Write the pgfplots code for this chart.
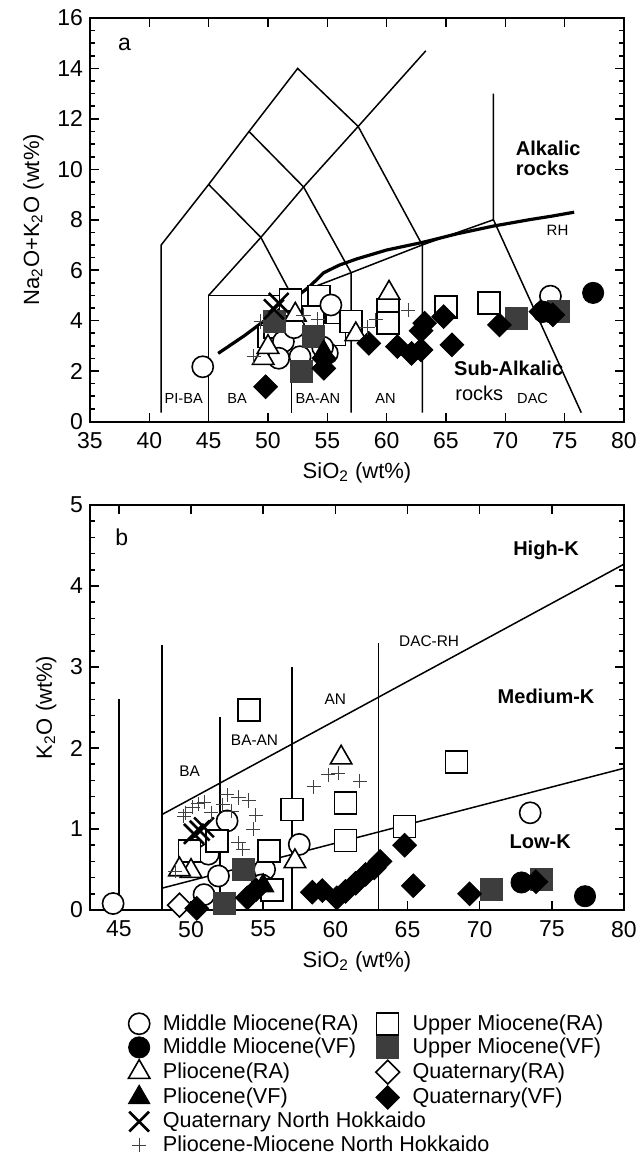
\documentclass[border=0pt]{standalone}
\usepackage{fontspec}
\setmainfont{Liberation Sans}
\usepackage{pgfplots}
\pgfplotsset{compat=1.18}
\usetikzlibrary{calc}

\definecolor{umvf}{HTML}{3D3D3D}

\pgfplotsset{
  panel/.style={
    scale only axis, width=267pt,
    tick align=inside, tick pos=both,
    axis line style={line width=1pt},
    every tick/.style={black, line width=0.8pt},
    major tick length=4.5pt, minor tick length=2.5pt,
    tick label style={font=\fontsize{11.5}{13}\selectfont},
    xticklabel style={yshift=-2pt},
    label style={font=\fontsize{11}{13}\selectfont},
    /pgf/number format/assume math mode=true,
  },
  bline/.style={black, line width=0.75pt, no marks, forget plot},
  mmra/.style={only marks, mark=*, mark size=5.3pt, mark options={fill=white, draw=black, line width=0.8pt}},
  mmvf/.style={only marks, mark=*, mark size=5.3pt, mark options={fill=black, draw=black}},
  umra/.style={only marks, mark=square*, mark size=5.5pt, mark options={fill=white, draw=black, line width=0.8pt}},
  umvf/.style={only marks, mark=square*, mark size=5.5pt, mark options={fill=umvf, draw=umvf}},
  plra/.style={only marks, mark=triangle*, mark size=6.2pt, mark options={fill=white, draw=black, line width=0.8pt}},
  plvf/.style={only marks, mark=triangle*, mark size=6.2pt, mark options={fill=black, draw=black}},
  qra/.style={only marks, mark=square*, mark size=4.2pt, mark options={rotate=45, fill=white, draw=black, line width=0.8pt}},
  qvf/.style={only marks, mark=square*, mark size=4.2pt, mark options={rotate=45, fill=black, draw=black}},
  qnh/.style={only marks, mark=x, mark size=7pt, mark options={draw=black, line width=1.3pt}},
  pmnh/.style={only marks, mark=+, mark size=3.6pt, mark options={draw=black!75, line width=0.5pt}},
}

\begin{document}
\begin{tikzpicture}

% ---------------- panel a: TAS ----------------
\begin{axis}[panel, name=pa, at={(0pt,0pt)}, anchor=south west, height=201.75pt,
  xmin=35, xmax=80, ymin=0, ymax=16,
  xtick={35,40,...,80}, ytick={0,2,...,16}, minor y tick num=3,
  xlabel={SiO\textsubscript{2} (wt\%)},
  ylabel={Na\textsubscript{2}O+K\textsubscript{2}O (wt\%)},
]
\addplot[bline] coordinates {(41,0.35) (41,7) (45,9.4) (48.4,11.5) (52.5,14) (57.6,11.7) (63,7) (63,0.35)};
\addplot[bline] coordinates {(45,0.35) (45,5) (52,5) (52,0.35)};
\addplot[bline] coordinates {(45,5) (49.4,7.3) (53,9.3) (57.6,11.7) (63.3,14.7)};
\addplot[bline] coordinates {(45,9.4) (49.4,7.3) (52,5)};
\addplot[bline] coordinates {(48.4,11.5) (53,9.3) (57,5.9) (57,0.35)};
\addplot[bline] coordinates {(52,5) (57,5.9) (63,7) (69,8)};
\addplot[bline] coordinates {(69,13) (69,8) (76.4,0.35)};
\addplot[black, line width=1.6pt, no marks, forget plot] coordinates {
  (45.8,2.7) (48,3.4) (50,4.1) (52,4.8) (53.5,5.35) (54.7,5.9) (56,6.2) (57.5,6.45)
  (60,6.8) (63,7.1) (66,7.45) (69,7.75) (72,8.0) (74,8.15) (75.8,8.3)};

\addplot[umra] coordinates {(50.1,3.37) (50.6,3.75) (51.9,4.82) (54.3,4.95) (53.8,4.15) (55.8,3.96)
  (55.6,3.45) (57.0,3.96) (60.1,4.42) (60.1,3.9) (65.0,4.55) (68.6,4.7)};
\addplot[mmra] coordinates {(44.5,2.17) (55.3,4.62) (51.3,3.17) (50.9,2.51) (52.7,2.57) (55.0,2.71)
  (54.6,2.95) (52.2,3.72) (73.8,4.97)};
\addplot[plra] coordinates {(52.3,4.23) (49.6,2.51) (50.0,2.95) (57.4,3.45) (60.2,5.1)};
\addplot[umvf] coordinates {(50.5,3.95) (53.8,3.37) (52.8,1.98) (70.9,4.1) (74.5,4.36)};
\addplot[mmvf] coordinates {(77.4,5.1) (73.2,4.35)};
\addplot[plvf] coordinates {(54.7,2.75)};
\addplot[qvf] coordinates {(49.8,1.38) (54.7,2.51) (54.7,2.11) (58.5,3.10) (60.9,2.97) (62.1,2.70)
  (62.9,2.84) (62.9,3.60) (63.2,3.90) (64.8,4.16) (65.5,3.04) (69.5,3.83) (73.0,4.36) (74.0,4.23)};
\addplot[qnh] coordinates {(50.5,4.45) (50.9,4.70)};
\addplot[pmnh] coordinates {(49.4,3.96) (48.8,2.57) (53.0,4.2) (59.1,4.03) (58.4,3.72) (61.8,4.42) (54.2,4.05)};

\node[font=\fontsize{11.5}{13}\selectfont] at (axis cs:37.9,14.96) {a};
\node[font=\bfseries\fontsize{10}{12}\selectfont, anchor=west] at (axis cs:70.3,10.84) {Alkalic};
\node[font=\bfseries\fontsize{10}{12}\selectfont, anchor=west] at (axis cs:70.3,10.05) {rocks};
\node[font=\fontsize{7.5}{9}\selectfont] at (axis cs:74.4,7.57) {RH};
\node[font=\bfseries\fontsize{10}{12}\selectfont, anchor=west] at (axis cs:65.1,2.11) {Sub-Alkalic};
\node[font=\fontsize{10}{12}\selectfont, anchor=west] at (axis cs:65.2,1.12) {rocks};
\node[font=\fontsize{7.3}{9}\selectfont] at (axis cs:42.9,0.92) {PI-BA};
\node[font=\fontsize{7.3}{9}\selectfont] at (axis cs:47.4,0.92) {BA};
\node[font=\fontsize{7.3}{9}\selectfont] at (axis cs:54.2,0.92) {BA-AN};
\node[font=\fontsize{7.3}{9}\selectfont] at (axis cs:59.9,0.92) {AN};
\node[font=\fontsize{7.3}{9}\selectfont] at (axis cs:72.3,0.92) {DAC};
\end{axis}

% ---------------- panel b: K2O vs SiO2 ----------------
\begin{axis}[panel, name=pb, at={(0pt,-41.75pt)}, anchor=north west, height=202.5pt,
  xmin=43, xmax=80, ymin=0, ymax=5,
  xtick={45,50,...,80}, ytick={0,1,...,5}, minor y tick num=4,
  xlabel={SiO\textsubscript{2} (wt\%)},
  ylabel={K\textsubscript{2}O (wt\%)},
  legend columns=2,
  legend style={at={(0.06,-0.242)}, anchor=north west, draw=none, fill=none,
    font=\fontsize{10.8}{12}\selectfont, cells={anchor=west}, row sep=0.5pt,
    nodes={inner sep=1pt},
    /tikz/every even column/.append style={column sep=5pt},
    /tikz/every odd column/.append style={column sep=5.5pt}},
]
\addplot[bline] coordinates {(45,0) (45,2.6)};
\addplot[bline] coordinates {(48,0) (48,3.27)};
\addplot[bline] coordinates {(52,0) (52,2.38)};
\addplot[bline] coordinates {(57,0) (57,3.0)};
\addplot[bline] coordinates {(63,0) (63,3.3)};
\addplot[bline] coordinates {(48,1.18) (80,4.27)};
\addplot[bline] coordinates {(48,0.27) (80,1.75)};

\addplot[mmra] coordinates {(44.6,0.08) (52.5,1.10) (51.2,0.69) (55.1,0.50) (51.9,0.42) (57.5,0.81)
  (50.9,0.19) (54.9,0.31) (73.5,1.20)};
\addlegendentry{Middle Miocene(RA)}
\addplot[umra] coordinates {(54.0,2.47) (57.0,1.24) (60.7,1.32) (60.7,0.86) (68.4,1.83) (64.8,1.03)
  (49.9,0.73) (51.8,0.85) (55.4,0.73) (55.6,0.25)};
\addlegendentry{Upper Miocene(RA)}
\addplot[mmvf] coordinates {(72.9,0.34) (77.3,0.17)};
\addlegendentry{Middle Miocene(VF)}
\addplot[umvf] coordinates {(53.6,0.50) (52.3,0.08) (70.8,0.25) (74.3,0.38)};
\addlegendentry{Upper Miocene(VF)}
\addplot[plra] coordinates {(60.4,1.88) (50.0,0.48) (49.2,0.50) (57.2,0.60)};
\addlegendentry{Pliocene(RA)}
\addplot[qra] coordinates {(49.2,0.06)};
\addlegendentry{Quaternary(RA)}
\addplot[plvf] coordinates {(55.0,0.30)};
\addlegendentry{Pliocene(VF)}
\addplot[qvf] coordinates {(50.4,0.02) (53.9,0.15) (54.5,0.25) (58.4,0.22) (59.1,0.24) (60.1,0.15)
  (60.7,0.23) (61.4,0.33) (62.1,0.44) (62.7,0.52) (63.1,0.60) (64.8,0.80) (65.4,0.30) (69.3,0.20) (73.9,0.35)};
\addlegendentry{Quaternary(VF)}
\addplot[qnh] coordinates {(50.2,0.94) (50.6,0.98) (50.9,1.02)};
\addlegendentry{\makebox[0pt][l]{Quaternary North Hokkaido}}
\addlegendimage{empty legend}
\addlegendentry{}
\addplot[pmnh] coordinates {(49.5,1.16) (50.1,1.27) (50.5,1.31) (50.9,1.33) (51.4,1.20) (52.2,1.30)
  (52.5,1.42) (53.3,1.39) (54.0,1.35) (54.5,1.17) (54.3,1.00) (53.3,0.83) (53.6,0.75) (48.9,0.48)
  (58.5,1.52) (59.5,1.67) (60.2,1.69) (61.7,1.59) (49.6,1.20) (52.8,1.22)};
\addlegendentry{\makebox[0pt][l]{Pliocene-Miocene North Hokkaido}}
\addlegendimage{empty legend}
\addlegendentry{}

\node[font=\fontsize{11.5}{13}\selectfont] at (axis cs:45.2,4.6) {b};
\node[font=\bfseries\fontsize{10}{12}\selectfont] at (axis cs:74.6,4.44) {High-K};
\node[font=\bfseries\fontsize{10}{12}\selectfont] at (axis cs:74.6,2.64) {Medium-K};
\node[font=\bfseries\fontsize{10}{12}\selectfont] at (axis cs:74.2,0.84) {Low-K};
\node[font=\fontsize{7.7}{9}\selectfont] at (axis cs:49.9,1.71) {BA};
\node[font=\fontsize{7.7}{9}\selectfont] at (axis cs:54.4,2.10) {BA-AN};
\node[font=\fontsize{7.7}{9}\selectfont] at (axis cs:60.0,2.60) {AN};
\node[font=\fontsize{7.7}{9}\selectfont] at (axis cs:66.5,3.32) {DAC-RH};
\end{axis}

\pgfresetboundingbox
\path[use as bounding box] ($(pa.north west)+(-45pt,9pt)$) rectangle ($(pb.south east)+(8.5pt,-123.5pt)$);
\end{tikzpicture}
\end{document}
